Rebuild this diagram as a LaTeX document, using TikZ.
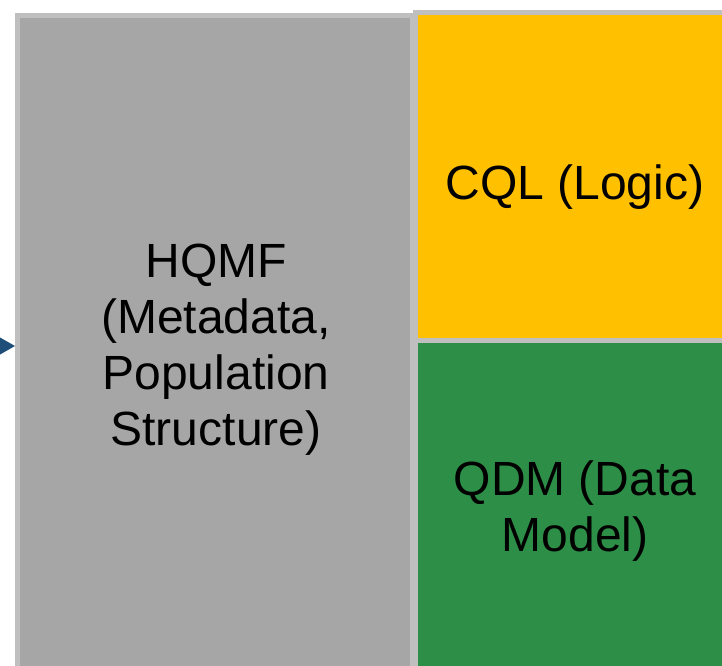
\documentclass[tikz,border=0pt]{standalone}
\usepackage{fontspec}
\setmainfont{Liberation Sans}
\usetikzlibrary{arrows.meta}

\definecolor{boxgray}{HTML}{A6A6A6}
\definecolor{rimgray}{HTML}{BFBFBF}
\definecolor{cqlyellow}{HTML}{FFC000}
\definecolor{qdmgreen}{HTML}{2D8F47}
\definecolor{feedblue}{HTML}{1F4E79}

\tikzset{
    part/.style={draw=rimgray, line width=5pt, rectangle},
    caption/.style={align=center, font=\fontsize{48}{56}\selectfont},
    feedarrow/.style={feedblue, line width=2pt, -{Triangle[length=18pt,width=20pt]}}
}

\begin{document}
\begin{tikzpicture}[x=1pt,y=-1pt]

    \useasboundingbox (0,0) rectangle (722,665);
    \clip (0,0) rectangle (722,665);

    % Blocks
    \node[part, fill=boxgray, minimum width=395pt, minimum height=659.5pt]
        (hqmf) at (215,345.25) {};
    \node[part, fill=cqlyellow, minimum width=319.5pt, minimum height=327.5pt]
        (cql) at (575.25,176.25) {};
    \node[part, fill=qdmgreen, minimum width=319.5pt, minimum height=335pt]
        (qdm) at (575.25,507.5) {};

    % Block texts
    \node[caption] (hqmf-text) at (216,350) {HQMF\\(Metadata,\\Population\\Structure)};
    \node[caption] (cql-text) at (575,187) {CQL (Logic)};
    \node[caption] (qdm-text) at (575,511) {QDM (Data\\Model)};

    % Incoming arrow
    \coordinate (feed) at (-30,346);
    \draw[feedarrow] (feed) -- (feed -| hqmf.west);

\end{tikzpicture}
\end{document}
